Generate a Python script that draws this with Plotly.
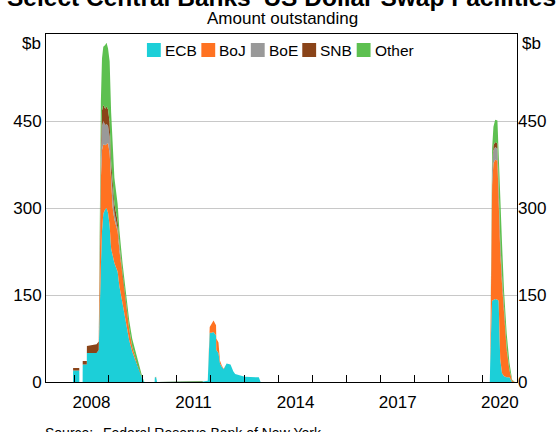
import plotly.graph_objects as go

# ---------------- data (US$ billions outstanding) ----------------
dates = [
    "2007-03-01", "2007-12-16", "2007-12-17", "2008-02-21", "2008-02-22", "2008-03-28",
    "2008-03-29", "2008-05-12", "2008-05-13", "2008-08-25", "2008-09-17", "2008-09-24",
    "2008-10-01", "2008-10-10", "2008-10-22", "2008-11-05", "2008-11-25", "2008-12-10",
    "2008-12-26", "2009-01-12", "2009-01-28", "2009-02-14", "2009-03-04", "2009-04-08",
    "2009-04-27", "2009-05-31", "2009-07-06", "2009-08-10", "2009-09-12", "2009-11-06",
    "2009-12-28", "2010-01-20", "2010-05-10", "2010-05-12", "2010-05-26", "2010-06-05",
    "2011-10-01", "2011-10-12", "2011-12-01", "2011-12-15", "2011-12-22", "2012-01-10",
    "2012-02-01", "2012-02-28", "2012-03-02", "2012-03-25", "2012-04-10", "2012-05-01",
    "2012-05-20", "2012-06-20", "2012-08-01", "2012-09-01", "2012-09-20", "2013-01-01",
    "2013-06-01", "2013-06-20", "2020-03-15", "2020-03-19", "2020-03-26", "2020-04-02",
    "2020-04-09", "2020-04-23", "2020-05-12", "2020-06-05", "2020-06-18", "2020-07-05",
    "2020-07-24", "2020-08-15", "2020-09-12", "2020-10-12", "2020-11-10", "2020-12-10",
    "2020-12-31",
]
ecb = [
    0, 0, 20, 20, 0, 0,
    30, 30, 50, 50, 55, 120,
    150, 200, 260, 290, 298, 300,
    292, 270, 230, 215, 205, 190,
    165, 135, 105, 72, 52, 27,
    6, 0, 0, 8, 8, 0,
    0, 1, 2, 55, 85, 85,
    86, 80, 55, 50, 32, 26,
    22, 32, 30, 18, 14, 9,
    8, 0, 0, 30, 110, 112,
    140, 142, 143, 142, 140, 40,
    15, 10, 8, 8, 0, 0,
    0,
]
boj = [
    0, 0, 0, 0, 0, 0,
    0, 0, 0, 0, 0, 50,
    120, 150, 140, 120, 110, 110,
    120, 125, 105, 85, 75, 70,
    62, 45, 30, 18, 8, 3,
    0, 0, 0, 0, 1, 0,
    0, 0, 0, 5, 10, 15,
    20, 18, 20, 18, 5, 2,
    1, 0, 0, 0, 0, 0,
    0, 0, 0, 0, 30, 180,
    200, 235, 240, 240, 165, 186,
    155, 102, 47, 12, 2, 0,
    0,
]
boe = [
    0, 0, 0, 0, 0, 0,
    0, 0, 0, 0, 0, 25,
    30, 35, 40, 40, 35, 35,
    30, 28, 25, 20, 12, 5,
    3, 1, 0, 0, 0, 0,
    0, 0, 0, 0, 0, 0,
    0, 0, 0, 0, 0, 0,
    0, 0, 0, 0, 0, 0,
    0, 0, 0, 0, 0, 0,
    0, 0, 0, 0, 0, 15,
    20, 22, 22, 20, 20, 12,
    8, 5, 2, 0, 0, 0,
    0,
]
snb = [
    0, 0, 4, 4, 0, 0,
    6, 6, 12, 15, 15, 20,
    25, 25, 28, 28, 28, 30,
    28, 25, 20, 17, 15, 12,
    8, 6, 4, 2, 1, 0,
    0, 0, 0, 0, 0, 0,
    0, 0, 0, 0, 0, 0,
    0, 0, 0, 0, 0, 0,
    0, 0, 0, 0, 0, 0,
    0, 0, 0, 0, 3, 6,
    8, 9, 9, 9, 10, 8,
    6, 5, 3, 1, 0, 0,
    0,
]
other = [
    0, 0, 0, 0, 0, 0,
    0, 0, 0, 0, 0, 15,
    35, 75, 90, 100, 110, 110,
    105, 105, 85, 63, 45, 30,
    23, 17, 14, 14, 13, 8,
    3, 0, 0, 0, 0, 0,
    0, 0, 0, 0, 0, 0,
    0, 0, 0, 0, 0, 0,
    0, 0, 0, 0, 0, 0,
    0, 0, 0, 0, 10, 30,
    35, 32, 38, 40, 55, 64,
    56, 35, 24, 12, 2, 0,
    0,
]
series_names = ["ECB", "BoJ", "BoE", "SNB", "Other"]
series_values = [ecb, boj, boe, snb, other]
series_colors = ["#1ccfd8", "#ff7221", "#999999", "#8a4419", "#5dc050"]

year_label_dates = ["2008-07-01", "2011-07-01", "2014-07-01", "2017-07-01", "2020-07-01"]
year_labels = ["2008", "2011", "2014", "2017", "2020"]
year_tick_dates = [f"{y}-01-01" for y in range(2008, 2022)]
y_ticks = [0, 150, 300, 450]

# ---------------- layout geometry ----------------
W, H = 558, 432
L, R, T, B = 46, 36, 34, 50
FONT = "Arial, 'Liberation Sans', sans-serif"


def xp(px):
    return (px - L) / (W - L - R)


def yp(py):
    return (H - B - py) / (H - T - B)


fig = go.Figure()
for name, vals, col in zip(series_names, series_values, series_colors):
    fig.add_trace(go.Scatter(
        x=dates, y=vals, name=name, mode="lines", stackgroup="one",
        line=dict(width=0, color=col), fillcolor=col, showlegend=False,
        hoverinfo="x+y+name",
    ))

# invisible trace so the right-hand axis is drawn
fig.add_trace(go.Scatter(x=[dates[0]], y=[0], yaxis="y2", mode="lines",
                         line=dict(width=0), showlegend=False, hoverinfo="skip"))

fig.update_layout(
    width=W, height=H,
    margin=dict(l=L, r=R, t=T, b=B),
    paper_bgcolor="white", plot_bgcolor="white",
    font=dict(family=FONT, size=17, color="black"),
    showlegend=False,
    xaxis=dict(
        type="date", range=["2007-03-01", "2021-01-01"],
        tickmode="array", tickvals=year_label_dates, ticktext=year_labels,
        ticks="", showgrid=False, zeroline=False,
        showline=True, mirror=True, linecolor="black", linewidth=1,
        tickfont=dict(size=17), ticklabelstandoff=5,
        minor=dict(tickmode="array", tickvals=year_tick_dates, ticks="inside",
                   ticklen=7, tickwidth=1, tickcolor="black", showgrid=False),
    ),
    yaxis=dict(
        range=[0, 600], tickmode="array", tickvals=y_ticks,
        ticks="", showgrid=True, gridcolor="#c8c8c8", gridwidth=1,
        zeroline=False, showline=True, mirror=True, linecolor="black", linewidth=1,
        tickfont=dict(size=17),
    ),
    yaxis2=dict(
        range=[0, 600], tickmode="array", tickvals=y_ticks, overlaying="y",
        side="right", ticks="", showgrid=False, zeroline=False, showline=False,
        tickfont=dict(size=17),
    ),
)

ann = []
shapes = []
# clipped main title
ann.append(dict(text="<b>Select Central Banks' US Dollar Swap Facilities</b>",
                x=xp(284), y=yp(-3), xref="paper", yref="paper",
                xanchor="center", yanchor="middle", showarrow=False,
                font=dict(size=24.5, family=FONT)))
ann.append(dict(text="Amount outstanding", x=xp(285), y=yp(19), xref="paper", yref="paper",
                xanchor="center", yanchor="middle", showarrow=False, font=dict(size=17)))
ann.append(dict(text="$b", x=xp(43), y=yp(43), xref="paper", yref="paper",
                xanchor="right", yanchor="middle", showarrow=False, font=dict(size=17)))
ann.append(dict(text="$b", x=xp(525), y=yp(43), xref="paper", yref="paper",
                xanchor="left", yanchor="middle", showarrow=False, font=dict(size=17)))
ann.append(dict(text="Source:", x=xp(43), y=yp(433), xref="paper", yref="paper",
                xanchor="left", yanchor="middle", showarrow=False, font=dict(size=14)))
ann.append(dict(text="Federal Reserve Bank of New York", x=xp(102), y=yp(433),
                xref="paper", yref="paper", xanchor="left", yanchor="middle",
                showarrow=False, font=dict(size=14)))

# manual legend
legend_x = [148, 203, 253, 305, 360]
for lx, name, col in zip(legend_x, series_names, series_colors):
    shapes.append(dict(type="rect", xref="paper", yref="paper",
                       x0=xp(lx), x1=xp(lx + 14), y0=yp(57), y1=yp(43),
                       fillcolor=col, line=dict(width=0)))
    ann.append(dict(text=name, x=xp(lx + 16), y=yp(50), xref="paper", yref="paper",
                    xanchor="left", yanchor="middle", showarrow=False,
                    font=dict(size=15.5)))

fig.update_layout(annotations=ann, shapes=shapes)
fig.write_html(
    "out.html",
    config={"displayModeBar": False},
    post_script="document.body.style.margin='0px';document.body.style.overflow='hidden';",
)
